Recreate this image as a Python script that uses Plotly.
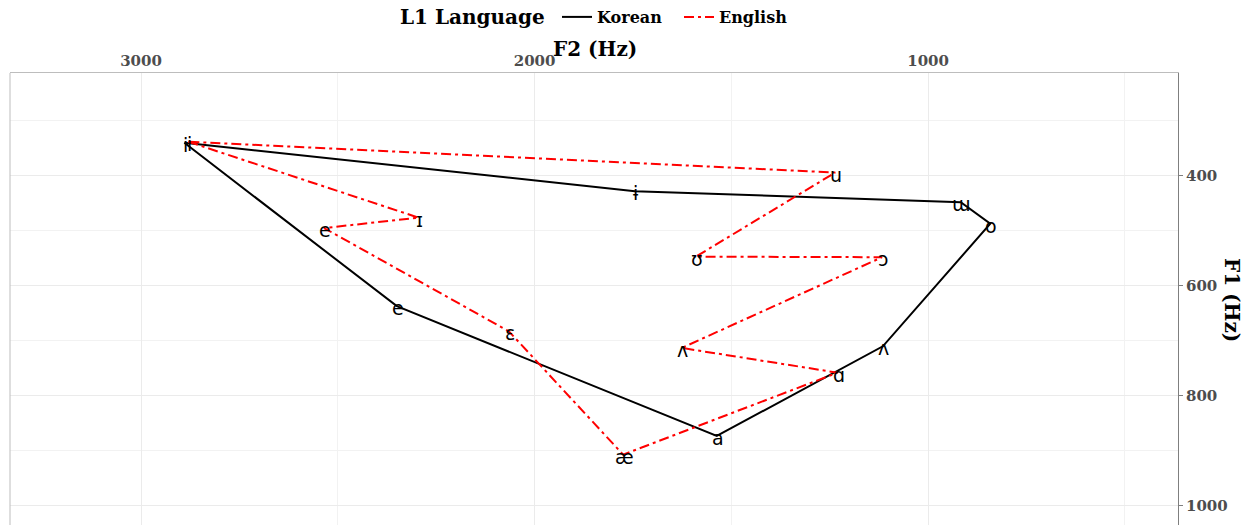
import plotly.graph_objects as go

# Korean vowels (closed polygon)
kor_vowels = ["i", "ɨ", "ɯ", "o", "ʌ", "a", "e", "i"]
kor_f2 = [2890, 1745, 917, 842, 1115, 1537, 2350, 2890]
kor_f1 = [340, 428, 448, 487, 710, 873, 637, 340]

# English vowels (closed polygon)
eng_vowels = ["i", "ɪ", "e", "ɛ", "æ", "ɑ", "ʌ", "ɔ", "ʊ", "u", "i"]
eng_f2 = [2880, 2295, 2535, 2065, 1775, 1230, 1626, 1117, 1590, 1236, 2880]
eng_f1 = [338, 476, 495, 683, 907, 758, 713, 548, 547, 394, 338]

x_ticks = [1000, 2000, 3000]
y_ticks = [400, 600, 800, 1000]

SERIF = "DejaVu Serif"
label_font = dict(family="DejaVu Sans", size=19, color="black")

fig = go.Figure()
fig.add_trace(go.Scatter(
    x=kor_f2, y=kor_f1, mode="lines", name="Korean",
    line=dict(color="black", width=2),
))
fig.add_trace(go.Scatter(
    x=eng_f2, y=eng_f1, mode="lines", name="English",
    line=dict(color="red", width=2, dash="10px,4px,3px,4px"),
))

OFF = 8  # page body margin
W, H = 1249 - OFF, 525 - OFF
PLOT_L, PLOT_R, PLOT_T, PLOT_B = 10 - OFF, 1178 - OFF, 73 - OFF, 525 - OFF


def px(xp):
    return (xp - OFF - PLOT_L) / (PLOT_R - PLOT_L)


def py(yp):
    return (PLOT_B - (yp - OFF)) / (PLOT_B - PLOT_T)


vowel_labels = []
for names, xs, ys in [(kor_vowels, kor_f2, kor_f1), (eng_vowels, eng_f2, eng_f1)]:
    for name, xv, yv in zip(names[:-1], xs[:-1], ys[:-1]):
        vowel_labels.append(dict(
            text=name, x=xv, y=yv, xref="x", yref="y", showarrow=False,
            xanchor="center", yanchor="middle", xshift=1, yshift=-2,
            font=label_font,
        ))

fig.update_layout(
    width=W, height=H,
    margin=dict(l=PLOT_L, r=W - PLOT_R, t=PLOT_T, b=H - PLOT_B, autoexpand=False),
    plot_bgcolor="white", paper_bgcolor="white",
    font=dict(family=SERIF),
    legend=dict(
        orientation="h", xref="paper", yref="paper",
        x=px(557), y=py(17), xanchor="left", yanchor="middle",
        font=dict(family=SERIF, size=16, color="black", weight="bold"),
        itemwidth=30, entrywidth=77, entrywidthmode="pixels",
    ),
    xaxis=dict(
        side="top", range=[3333, 365], tickvals=x_ticks, automargin=False,
        showgrid=True, gridcolor="#ebebeb", gridwidth=1,
        minor=dict(tickvals=[500, 1500, 2500], showgrid=True, gridcolor="#f2f2f2", gridwidth=1),
        tickfont=dict(family=SERIF, size=15, color="#4d4d4d", weight="bold"),
        showline=True, linecolor="#bdbdbd", linewidth=1,
        ticks="", zeroline=False,
    ),
    yaxis=dict(
        side="right", range=[1035, 213], tickvals=y_ticks, automargin=False,
        showgrid=True, gridcolor="#ebebeb", gridwidth=1,
        minor=dict(tickvals=[300, 500, 700, 900], showgrid=True, gridcolor="#f2f2f2", gridwidth=1),
        tickfont=dict(family=SERIF, size=15, color="#4d4d4d", weight="bold"),
        showline=True, linecolor="#7f7f7f", linewidth=1,
        ticks="outside", ticklen=4, tickcolor="#7f7f7f",
        zeroline=False,
    ),
    shapes=[dict(type="line", xref="paper", yref="paper", x0=0, x1=0, y0=0, y1=1,
                 line=dict(color="#bdbdbd", width=1))],
    annotations=vowel_labels + [
        dict(text="L1 Language", xref="paper", yref="paper",
             x=px(472), y=py(17), xanchor="center", yanchor="middle", showarrow=False,
             font=dict(family=SERIF, size=20, color="black", weight="bold")),
        dict(text="F2 (Hz)", xref="paper", yref="paper",
             x=px(595), y=py(49), xanchor="center", yanchor="middle", showarrow=False,
             font=dict(family=SERIF, size=20, color="black", weight="bold")),
        dict(text="F1 (Hz)", xref="paper", yref="paper",
             x=px(1232), y=py(300), xanchor="center", yanchor="middle", showarrow=False,
             textangle=90,
             font=dict(family=SERIF, size=20, color="black", weight="bold")),
    ],
)

fig.write_html("out.html")
